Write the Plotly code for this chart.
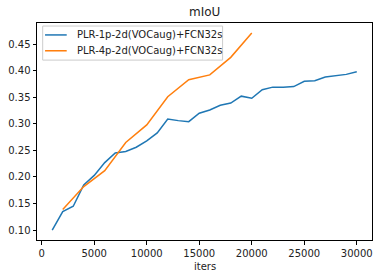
import plotly.graph_objects as go

iters_1p = [1000, 2000, 3000, 4000, 5000, 6000, 7000, 8000, 9000, 10000,
            11000, 12000, 13000, 14000, 15000, 16000, 17000, 18000, 19000, 20000,
            21000, 22000, 23000, 24000, 25000, 26000, 27000, 28000, 29000, 30000]
miou_1p = [0.100, 0.135, 0.145, 0.185, 0.203, 0.227, 0.245, 0.248, 0.256, 0.268,
           0.283, 0.309, 0.306, 0.304, 0.320, 0.326, 0.335, 0.339, 0.352, 0.348,
           0.364, 0.369, 0.369, 0.370, 0.380, 0.381, 0.388, 0.390, 0.393, 0.398]

iters_4p = [2000, 4000, 6000, 8000, 10000, 12000, 14000, 16000, 18000, 20000]
miou_4p = [0.139, 0.182, 0.212, 0.265, 0.298, 0.351, 0.383, 0.392, 0.425, 0.471]

names = ["PLR-1p-2d(VOCaug)+FCN32s", "PLR-4p-2d(VOCaug)+FCN32s"]
colors = ["#1f77b4", "#ff7f0e"]

fig = go.Figure()
fig.add_trace(go.Scatter(x=iters_1p, y=miou_1p, mode="lines", name=names[0],
                         line=dict(color=colors[0], width=1.5)))
fig.add_trace(go.Scatter(x=iters_4p, y=miou_4p, mode="lines", name=names[1],
                         line=dict(color=colors[1], width=1.5)))

axis_common = dict(showgrid=False, zeroline=False, showline=True, mirror=True,
                   linecolor="black", linewidth=1, ticks="outside", ticklen=3.5,
                   tickcolor="black", tickwidth=1,
                   tickfont=dict(family="DejaVu Sans", size=10, color="#222"))

# manual legend (matplotlib style)
shapes = [dict(type="rect", xref="paper", yref="paper", x0=0.017, x1=0.554,
               y0=0.829, y1=0.986, line=dict(color="#cccccc", width=1),
               fillcolor="rgba(255,255,255,0.8)", layer="above")]
annotations = []
row_y = [0.945, 0.872]
for name, col, ry in zip(names, colors, row_y):
    shapes.append(dict(type="line", xref="paper", yref="paper", x0=0.024, x1=0.0887,
                       y0=ry, y1=ry, line=dict(color=col, width=1.5), layer="above"))
    annotations.append(dict(text=name, xref="paper", yref="paper", x=0.1134, y=ry,
                            xanchor="left", yanchor="middle", showarrow=False,
                            font=dict(family="DejaVu Sans", size=10, color="#222")))

annotations += [
    dict(text="mIoU", xref="paper", yref="paper", x=0.5, y=1, yshift=2,
         xanchor="center", yanchor="bottom", showarrow=False,
         font=dict(family="DejaVu Sans", size=12, color="#222")),
    dict(text="iters", xref="paper", yref="paper", x=0.5, y=0, yshift=-19,
         xanchor="center", yanchor="top", showarrow=False,
         font=dict(family="DejaVu Sans", size=10, color="#222")),
]

fig.update_layout(
    width=379, height=278,
    margin=dict(l=37, r=7, t=23, b=38),
    paper_bgcolor="white", plot_bgcolor="white",
    font=dict(family="DejaVu Sans", size=10, color="#222"),
    showlegend=False,
    xaxis=dict(range=[-450, 31450], tickmode="linear", tick0=0, dtick=5000,
               tickformat="d", **axis_common),
    yaxis=dict(range=[0.0815, 0.4896], tickmode="linear", tick0=0.10, dtick=0.05,
               tickformat=".2f", **axis_common),
    shapes=shapes,
    annotations=annotations,
)

fig.write_html("out.html")
